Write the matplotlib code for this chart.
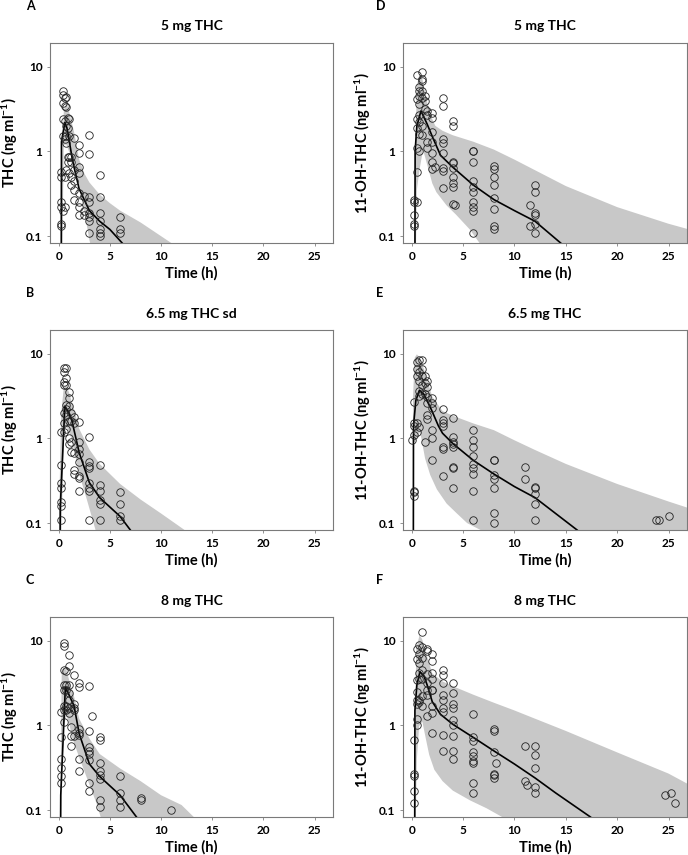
import numpy as np
import matplotlib
matplotlib.use("Agg")
from matplotlib import pyplot as plt

plt.rcParams["font.family"] = ["Lato", "DejaVu Sans"]
plt.rcParams["font.weight"] = "bold"
plt.rcParams["mathtext.fontset"] = "custom"
plt.rcParams["mathtext.rm"] = "Lato:bold"
plt.rcParams["mathtext.it"] = "Lato:bold"
plt.rcParams["mathtext.bf"] = "Lato:bold"

# ---- panel A: THC, 5 mg ----
a_obs_t = [0.25, 0.45, 0.6, 0.75, 0.9, 1.0, 1.25, 1.5, 2.0, 2.5, 3.0, 4.0, 6.0]
a_obs_c = [
    [0.14, 0.13, 0.25, 0.22, 0.57, 0.50],
    [5.2, 4.6, 3.7, 2.4, 1.5, 0.20],
    [4.3, 3.4, 2.3, 1.4, 0.22, 0.5],
    [4.4, 3.3, 2.0, 1.25, 0.6, 1.5],
    [2.5, 1.9, 0.85, 0.75],
    [1.5, 0.85, 0.55, 2.4],
    [0.85, 0.75, 0.50, 0.40],
    [1.45, 0.45, 0.35, 0.27, 0.6],
    [1.2, 0.95, 0.65, 0.55, 0.32, 0.22, 0.18, 0.25],
    [0.2, 0.18, 0.3],
    [1.55, 0.92, 0.29, 0.25, 0.19, 0.17, 0.15, 0.11],
    [0.53, 0.29, 0.19, 0.15, 0.12, 0.11, 0.10],
    [0.17, 0.12, 0.11],
]
a_hi_t = [0.25, 0.5, 0.75, 1.0, 1.5, 2.0, 2.5, 3.0, 4.0, 5.0, 6.0, 8.0, 11.0, 13.0]
a_hi = [0.5, 3.0, 3.8, 3.0, 1.7, 0.8, 0.55, 0.43, 0.31, 0.245, 0.2, 0.145, 0.083, 0.05]
a_lo_t = [0.25, 0.5, 0.75, 1.0, 1.5, 2.0, 2.5, 3.0, 4.0, 13.0]
a_lo = [0.01, 1.2, 1.2, 1.0, 0.7, 0.4, 0.2, 0.09, 0.03, 0.001]
a_med_t = [0.24, 0.27, 0.6, 0.8, 1.0, 1.3, 1.5, 2.0, 3.0, 4.0, 5.0, 6.2]
a_med_c = [0.01, 1.3, 2.2, 1.9, 1.4, 0.85, 0.65, 0.36, 0.2, 0.15, 0.12, 0.083]

# ---- panel B: THC, 6.5 mg sd ----
b_obs_t = [0.25, 0.5, 0.75, 1.0, 1.25, 1.5, 2.0, 3.0, 4.0, 6.0]
b_obs_c = [
    [1.2, 0.48, 0.30, 0.26, 0.18, 0.16, 0.11],
    [6.8, 6.0, 4.6, 4.3, 2.0, 1.5, 1.2],
    [6.7, 5.2, 4.3, 2.5, 2.2, 1.9, 1.3],
    [3.5, 3.0, 2.4, 1.6, 1.0, 0.85],
    [2.0, 1.6, 0.9, 0.7],
    [1.8, 1.5, 0.68, 0.42, 0.38],
    [1.55, 0.9, 0.75, 0.65, 0.52, 0.36, 0.34, 0.24],
    [1.05, 0.52, 0.47, 0.45, 0.30, 0.26, 0.24, 0.11],
    [0.49, 0.28, 0.24, 0.19, 0.17, 0.11],
    [0.23, 0.17, 0.12, 0.11],
]
b_hi_t = [0.1, 0.25, 0.5, 0.75, 1.0, 1.5, 2.0, 3.0, 4.0, 6.0, 8.0, 10.0, 12.3, 14.0]
b_hi = [0.3, 2.0, 4.0, 4.2, 3.5, 2.2, 1.3, 0.74, 0.5, 0.29, 0.19, 0.13, 0.083, 0.06]
b_lo_t = [0.1, 0.5, 0.75, 1.0, 1.3, 2.0, 2.75, 3.6, 5.0, 14.0]
b_lo = [0.01, 1.2, 1.4, 1.2, 0.95, 0.38, 0.19, 0.083, 0.02, 0.001]
b_med_t = [0.1, 0.15, 0.6, 1.0, 1.3, 2.0, 3.0, 4.0, 6.0, 7.0]
b_med_c = [0.01, 0.15, 2.4, 2.0, 1.6, 0.68, 0.3, 0.2, 0.12, 0.083]

# ---- panel C: THC, 8 mg ----
c_obs_t = [0.25, 0.5, 0.75, 1.0, 1.25, 1.5, 2.0, 3.0, 3.25, 4.0, 6.0, 8.0, 11.0]
c_obs_c = [
    [1.45, 0.72, 0.40, 0.31, 0.25, 0.21],
    [9.5, 8.6, 4.5, 3.0, 2.6, 1.7, 1.5, 1.1],
    [4.4, 3.0, 2.6, 1.7, 1.5],
    [6.8, 5.0, 3.0, 2.4, 2.0, 1.4, 1.6],
    [0.95, 0.75, 0.57],
    [3.9, 1.8, 1.6, 1.5, 0.75],
    [3.2, 2.8, 0.9, 0.82, 0.76, 0.40, 0.29],
    [2.9, 0.85, 0.56, 0.50, 0.46, 0.39, 0.21, 0.17],
    [1.3],
    [0.72, 0.68, 0.36, 0.29, 0.26, 0.23, 0.13, 0.11],
    [0.25, 0.16, 0.13, 0.11],
    [0.14, 0.13],
    [0.10],
]
c_hi_t = [0.2, 0.3, 0.5, 0.75, 1.0, 1.5, 2.0, 3.0, 4.0, 6.0, 8.0, 10.0, 12.0, 13.2, 15.0]
c_hi = [0.3, 4.5, 4.8, 4.5, 3.5, 2.2, 1.2, 0.7, 0.46, 0.31, 0.22, 0.15, 0.115, 0.083, 0.06]
c_lo_t = [0.2, 0.3, 0.5, 0.75, 1.0, 1.3, 2.0, 3.0, 3.7, 4.1, 5.0, 15.0]
c_lo = [0.01, 0.4, 1.0, 1.3, 1.1, 0.73, 0.42, 0.2, 0.12, 0.083, 0.03, 0.001]
c_med_t = [0.15, 0.2, 0.65, 1.0, 1.5, 2.0, 3.0, 4.0, 6.0, 7.6]
c_med_c = [0.01, 0.15, 2.8, 2.3, 1.7, 0.8, 0.35, 0.25, 0.15, 0.083]

# ---- panel D: 11-OH-THC, 5 mg ----
d_obs_t = [0.25, 0.5, 0.75, 1.0, 1.25, 1.5, 2.0, 2.25, 3.0, 4.0, 4.25, 6.0, 8.0, 11.5, 12.0]
d_obs_c = [
    [0.27, 0.25, 0.18, 0.14, 0.13],
    [8.0, 4.2, 2.4, 1.9, 1.1, 0.57, 0.25],
    [5.7, 5.2, 4.5, 3.6, 2.7, 2.2, 1.6, 1.0],
    [8.7, 7.2, 6.8, 5.1, 4.3, 2.0, 1.55],
    [4.5, 3.9, 3.2],
    [3.0, 2.7, 1.3, 1.1],
    [2.8, 2.5, 1.7, 1.3, 0.95, 0.75, 0.62],
    [0.65],
    [4.3, 3.4, 1.4, 1.25, 0.95, 0.63, 0.58, 0.37],
    [2.3, 2.0, 0.75, 0.72, 0.63, 0.5, 0.42, 0.38, 0.24],
    [0.23],
    [1.0, 1.0, 0.75, 0.45, 0.38, 0.33, 0.25, 0.22, 0.20, 0.11],
    [0.68, 0.62, 0.5, 0.4, 0.28, 0.21, 0.13, 0.12],
    [0.13, 0.23],
    [0.40, 0.33, 0.19, 0.18, 0.14, 0.11],
]
d_hi_t = [0.3, 0.5, 0.75, 1.0, 1.5, 2.0, 2.3, 3.0, 4.0, 6.0, 8.0, 10.0, 12.0, 15.0, 20.0, 25.0, 27.0]
d_hi = [0.5, 6.0, 8.0, 7.5, 3.8, 2.4, 2.0, 1.75, 1.55, 1.3, 1.05, 0.8, 0.6, 0.39, 0.22, 0.14, 0.12]
d_lo_t = [0.3, 0.5, 0.75, 1.1, 1.5, 2.0, 2.4, 3.4, 4.3, 5.65, 6.6, 9.0, 27.0]
d_lo = [0.01, 0.35, 0.6, 1.05, 0.7, 0.42, 0.33, 0.23, 0.18, 0.12, 0.083, 0.03, 0.001]
d_med_t = [0.3, 0.33, 0.5, 0.9, 1.5, 2.0, 2.8, 4.0, 6.0, 8.0, 10.0, 12.0, 14.5]
d_med_c = [0.01, 1.0, 2.0, 3.0, 2.1, 1.5, 0.9, 0.65, 0.4, 0.27, 0.2, 0.15, 0.083]

# ---- panel E: 11-OH-THC, 6.5 mg ----
e_obs_t = [0.0, 0.25, 0.5, 0.75, 1.0, 1.25, 1.5, 2.0, 3.0, 4.0, 6.0, 8.0, 11.0, 12.0, 23.8, 24.1, 25.0]
e_obs_c = [
    [0.95],
    [0.24, 0.23, 0.21, 1.1, 1.4, 1.5, 2.7],
    [8.0, 6.5, 5.5, 1.5, 1.2],
    [8.5, 6.0, 4.8, 3.6, 1.35, 3.2],
    [8.5, 6.5, 5.5, 4.3, 3.3],
    [5.5, 4.5, 3.3, 0.9],
    [4.8, 4.0, 3.1, 2.6, 1.9, 1.7],
    [3.0, 2.6, 2.3, 1.25, 1.0, 0.55],
    [2.2, 1.65, 1.5, 1.4, 0.8, 0.75, 0.36],
    [1.75, 1.05, 0.9, 0.85, 0.8, 0.46, 0.45, 0.26],
    [1.25, 0.95, 0.8, 0.62, 0.5, 0.45, 0.38, 0.24, 0.11],
    [0.55, 0.56, 0.37, 0.33, 0.26, 0.13, 0.10],
    [0.46, 0.33],
    [0.27, 0.26, 0.22, 0.17, 0.11],
    [0.11],
    [0.11],
    [0.12],
]
e_hi_t = [0.12, 0.3, 0.5, 0.8, 1.2, 1.6, 2.0, 3.0, 4.0, 6.0, 8.0, 10.0, 12.0, 15.0, 20.0, 25.0, 27.0]
e_hi = [3.0, 9.0, 9.8, 9.0, 6.5, 4.5, 3.1, 2.1, 1.85, 1.5, 1.25, 0.95, 0.73, 0.5, 0.29, 0.18, 0.15]
e_lo_t = [0.12, 0.32, 0.82, 1.3, 1.8, 2.45, 3.4, 4.4, 5.4, 6.7, 9.0, 27.0]
e_lo = [0.9, 0.91, 1.2, 0.58, 0.37, 0.25, 0.17, 0.13, 0.1, 0.083, 0.03, 0.001]
e_med_t = [0.15, 0.17, 0.4, 0.75, 1.2, 1.9, 2.6, 3.0, 4.0, 6.0, 8.0, 10.0, 12.0, 16.1]
e_med_c = [0.01, 1.4, 2.8, 3.7, 3.3, 2.2, 1.4, 1.15, 0.87, 0.55, 0.38, 0.27, 0.2, 0.083]

# ---- panel F: 11-OH-THC, 8 mg ----
f_obs_t = [0.25, 0.5, 0.75, 1.0, 1.5, 2.0, 3.0, 4.0, 6.0, 8.0, 8.25, 11.0, 11.25, 12.0, 24.7, 25.2, 25.6]
f_obs_c = [
    [0.68, 0.27, 0.25, 0.17, 0.12],
    [8.0, 6.0, 3.4, 2.5, 2.0, 1.8, 1.2, 1.0],
    [9.0, 7.0, 5.5, 4.2, 3.5, 2.0, 1.9],
    [12.5, 8.5, 6.2, 4.5, 3.5, 2.2, 1.7],
    [8.0, 7.5, 4.0, 3.2, 2.6, 2.3, 1.3],
    [7.0, 5.8, 4.2, 3.5, 2.6, 2.6, 1.7, 1.4, 0.82],
    [4.5, 3.9, 3.2, 2.3, 2.0, 1.6, 1.45, 0.76, 0.5],
    [3.2, 2.4, 1.8, 1.6, 1.15, 1.0, 0.75, 0.5, 0.4],
    [1.35, 0.72, 0.65, 0.48, 0.43, 0.38, 0.36, 0.21, 0.16],
    [0.9, 0.85, 0.48, 0.27, 0.26, 0.24],
    [0.36],
    [0.57, 0.22],
    [0.2],
    [0.57, 0.45, 0.31, 0.19, 0.16],
    [0.15],
    [0.16],
    [0.12],
]
f_hi_t = [0.25, 0.45, 0.75, 1.0, 1.5, 2.0, 3.0, 4.0, 6.0, 8.0, 10.0, 12.0, 15.0, 20.0, 25.0, 27.0]
f_hi = [0.5, 8.0, 11.5, 10.5, 6.5, 4.1, 3.3, 2.9, 2.3, 1.85, 1.5, 1.2, 0.86, 0.48, 0.27, 0.2]
f_lo_t = [0.25, 0.5, 0.72, 1.04, 1.37, 1.7, 2.2, 3.0, 4.0, 5.7, 7.3, 8.8, 12.0, 27.0]
f_lo = [0.01, 0.4, 0.98, 1.1, 0.7, 0.45, 0.3, 0.22, 0.17, 0.13, 0.105, 0.083, 0.03, 0.001]
f_med_t = [0.28, 0.31, 0.5, 0.8, 1.2, 1.5, 2.0, 2.8, 4.0, 6.0, 8.0, 10.0, 12.0, 14.0, 17.4]
f_med_c = [0.01, 1.5, 3.0, 4.3, 3.8, 3.0, 1.9, 1.35, 1.03, 0.72, 0.5, 0.35, 0.24, 0.16, 0.083]

letters = ["A", "B", "C", "D", "E", "F"]
titles = ["5 mg THC", "6.5 mg THC sd", "8 mg THC", "5 mg THC", "6.5 mg THC", "8 mg THC"]
ylabels = [r"THC (ng ml$^{-1}$)"] * 3 + [r"11-OH-THC (ng ml$^{-1}$)"] * 3
yticks = [0.1, 1, 10]
ytick_labels = ["0.1", "1", "10"]
xticks = [0, 5, 10, 15, 20, 25]

panels = [
    (a_obs_t, a_obs_c, a_hi_t, a_hi, a_lo_t, a_lo, a_med_t, a_med_c),
    (b_obs_t, b_obs_c, b_hi_t, b_hi, b_lo_t, b_lo, b_med_t, b_med_c),
    (c_obs_t, c_obs_c, c_hi_t, c_hi, c_lo_t, c_lo, c_med_t, c_med_c),
    (d_obs_t, d_obs_c, d_hi_t, d_hi, d_lo_t, d_lo, d_med_t, d_med_c),
    (e_obs_t, e_obs_c, e_hi_t, e_hi, e_lo_t, e_lo, e_med_t, e_med_c),
    (f_obs_t, f_obs_c, f_hi_t, f_hi, f_lo_t, f_lo, f_med_t, f_med_c),
]

W, H = 688, 855
fig = plt.figure(figsize=(W / 100, H / 100), dpi=100)

col_left = [50, 403]
col_width = [283, 284]
letter_x = [26, 376]
row_top = [43, 330, 617]
row_height = 200

for k, (obs_t, obs_c, hi_t, hi, lo_t, lo, med_t, med_c) in enumerate(panels):
    col, row = divmod(k, 3)
    x0 = col_left[col] / W
    y0 = 1 - (row_top[row] + row_height) / H
    ax = fig.add_axes([x0, y0, col_width[col] / W, row_height / H])

    # prediction interval
    poly_t = np.r_[hi_t, lo_t[::-1]]
    poly_c = np.r_[hi, lo[::-1]]
    ax.fill(poly_t, poly_c, color="#c8c8c8", lw=0, zorder=1)

    # observations
    xs = np.concatenate([[t] * len(cs) for t, cs in zip(obs_t, obs_c)])
    ys = np.concatenate(obs_c)
    ax.plot(xs, ys, "o", ms=5.4, mfc="none", mec="#222222", mew=0.6, zorder=3)

    # median prediction
    ax.plot(med_t, med_c, color="black", lw=1.2, zorder=2)

    ax.set_yscale("log")
    ax.set_ylim(0.083, 19)
    ax.set_xlim(-0.85, 26.8)
    ax.set_yticks(yticks)
    ax.set_yticklabels(ytick_labels)
    ax.minorticks_off()
    ax.set_xticks(xticks)
    ax.tick_params(labelsize=8.5, length=2.5, width=0.6, color="#808080", pad=3)
    for lab in ax.get_xticklabels() + ax.get_yticklabels():
        lab.set_fontweight("bold")
    for sp in ax.spines.values():
        sp.set_color("#7a7a7a")
        sp.set_linewidth(0.8)

    ax.set_xlabel("Time (h)", fontsize=10.5, fontweight="bold", labelpad=3)
    ax.set_ylabel(ylabels[k], fontsize=10.5, fontweight="bold", labelpad=4)
    ax.set_title(titles[k], fontsize=10, fontweight="bold", pad=9)
    fig.text(letter_x[col] / W, 1 - (row_top[row] - 31) / H, letters[k],
             fontsize=9, fontweight="bold", ha="left", va="bottom")

fig.savefig("out.png", dpi=100)
